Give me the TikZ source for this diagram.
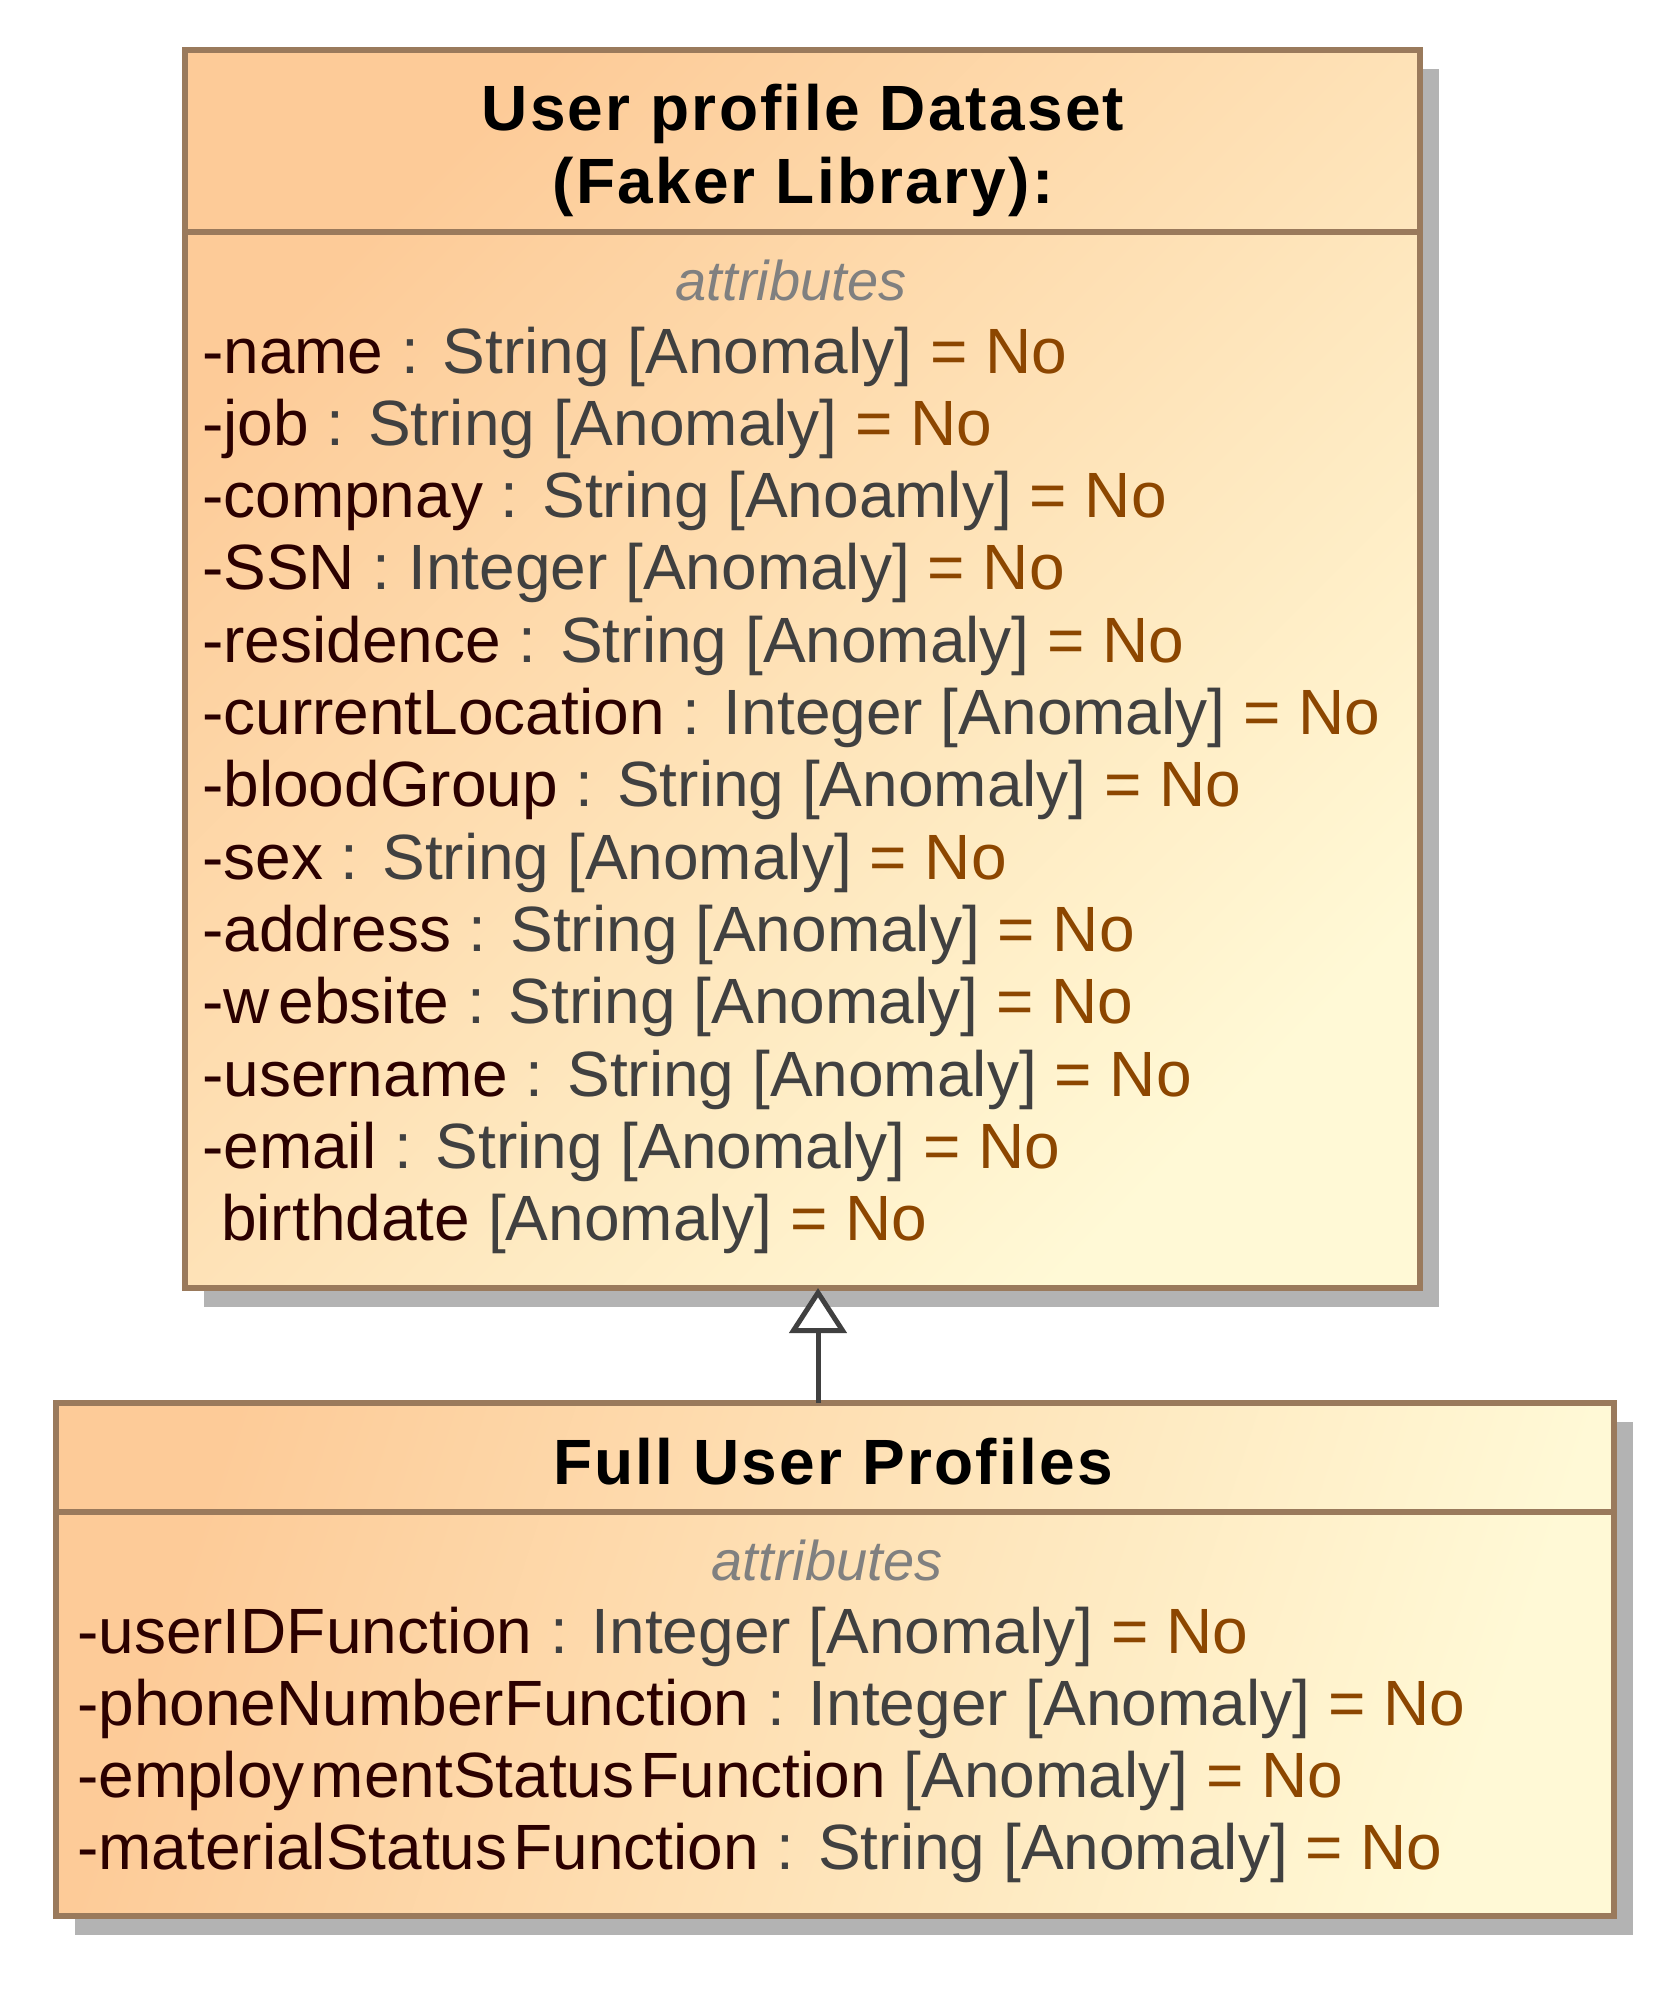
\documentclass[tikz,border=0pt]{standalone}
\usepackage{fontspec}
\setmainfont{Liberation Sans}
\newfontfamily\titlefont[LetterSpace=3.5]{Liberation Sans}
\usetikzlibrary{arrows.meta,shadows}
\definecolor{peach}{RGB}{253,203,152}
\definecolor{cream}{RGB}{255,249,214}
\definecolor{bordercol}{RGB}{154,122,92}
\definecolor{shadowcol}{RGB}{179,179,179}
\definecolor{namecol}{RGB}{43,0,0}
\definecolor{typecol}{RGB}{64,64,64}
\definecolor{valcol}{RGB}{140,70,0}
\definecolor{stereocol}{RGB}{128,128,128}
\definecolor{arrowcol}{RGB}{64,64,64}
\newcommand{\attrline}[2]{\textcolor{namecol}{#1} \textcolor{typecol}{: #2} \textcolor{valcol}{= No}}
\newcommand{\attrnotype}[1]{\textcolor{namecol}{#1} \textcolor{typecol}{[Anomaly]} \textcolor{valcol}{= No}}
\tikzset{
  classbox/.style={draw=bordercol, line width=5.5pt, rectangle, inner sep=0pt, outer sep=0pt,
    drop shadow={shadow xshift=19pt, shadow yshift=-19pt, fill=shadowcol, opacity=1}},
  divider/.style={draw=bordercol, line width=5.5pt},
  titletext/.style={anchor=base, inner sep=0pt, font=\titlefont\bfseries\fontsize{64}{73}\selectfont, text=black},
  stereotext/.style={anchor=base, inner sep=0pt, font=\itshape\fontsize{56}{64}\selectfont, text=stereocol},
  attrtext/.style={anchor=base west, inner sep=0pt, font=\fontsize{64}{72}\selectfont},
  genline/.style={draw=arrowcol, line width=5pt, -{Triangle[fill=white, length=45pt, width=57pt]}}
}
\begin{document}
\begin{tikzpicture}[x=1pt, y=-1pt]
\useasboundingbox (0,0) rectangle (1673,1998);
% top class
\node[classbox, minimum width=1235pt, minimum height=1238pt, left color=peach, right color=cream, shading angle=45] (ubox) at (802.5,669) {};
\coordinate (udiv) at (0,232);
\draw[divider] (ubox.west |- udiv) -- (ubox.east |- udiv);
\node[titletext] (ut1) at (803,130) {User profile Dataset};
\node[titletext] (ut2) at (803,203) {(Faker Library):};
\node[stereotext] (us) at (791,300) {attributes};
\node[attrtext] (ua1) at (202,373) {\attrline{-name}{String [Anomaly]}};
\node[attrtext] (ua2) at (202,445.3) {\attrline{-job}{String [Anomaly]}};
\node[attrtext] (ua3) at (202,517.6) {\attrline{-compnay}{String [Anoamly]}};
\node[attrtext] (ua4) at (202,589.9) {\attrline{-SSN}{Integer [Anomaly]}};
\node[attrtext] (ua5) at (202,662.2) {\attrline{-residence}{String [Anomaly]}};
\node[attrtext] (ua6) at (202,734.5) {\attrline{-currentLocation}{Integer [Anomaly]}};
\node[attrtext] (ua7) at (202,806.8) {\attrline{-bloodGroup}{String [Anomaly]}};
\node[attrtext] (ua8) at (202,879.1) {\attrline{-sex}{String [Anomaly]}};
\node[attrtext] (ua9) at (202,951.4) {\attrline{-address}{String [Anomaly]}};
\node[attrtext] (ua10) at (202,1023.7) {\attrline{-w\kern9pt ebsite}{String [Anomaly]}};
\node[attrtext] (ua11) at (202,1096) {\attrline{-username}{String [Anomaly]}};
\node[attrtext] (ua12) at (202,1168.3) {\attrline{-email}{String [Anomaly]}};
\node[attrtext] (ua13) at (221,1240.6) {\attrnotype{birthdate}};
% bottom class
\node[classbox, minimum width=1558pt, minimum height=513pt, left color=peach, right color=cream, shading angle=72] (fbox) at (835,1659.5) {};
\coordinate (fdiv) at (0,1512);
\draw[divider] (fbox.west |- fdiv) -- (fbox.east |- fdiv);
\node[titletext] (ft) at (833,1484) {Full User Profiles};
\node[stereotext] (fs) at (827,1580) {attributes};
\node[attrtext] (fa1) at (77,1653) {\attrline{-userIDFunction}{Integer [Anomaly]}};
\node[attrtext] (fa2) at (77,1725.3) {\attrline{-phoneNumberFunction}{Integer [Anomaly]}};
\node[attrtext] (fa3) at (77,1797.6) {\attrnotype{-employ\kern6pt mentStatus\kern6pt Function}};
\node[attrtext] (fa4) at (77,1869.9) {\attrline{-materialStatus\kern6pt Function}{String [Anomaly]}};
% generalization
\coordinate (gx) at (818,0);
\draw[genline] (fbox.north -| gx) -- (ubox.south -| gx);
\end{tikzpicture}
\end{document}
